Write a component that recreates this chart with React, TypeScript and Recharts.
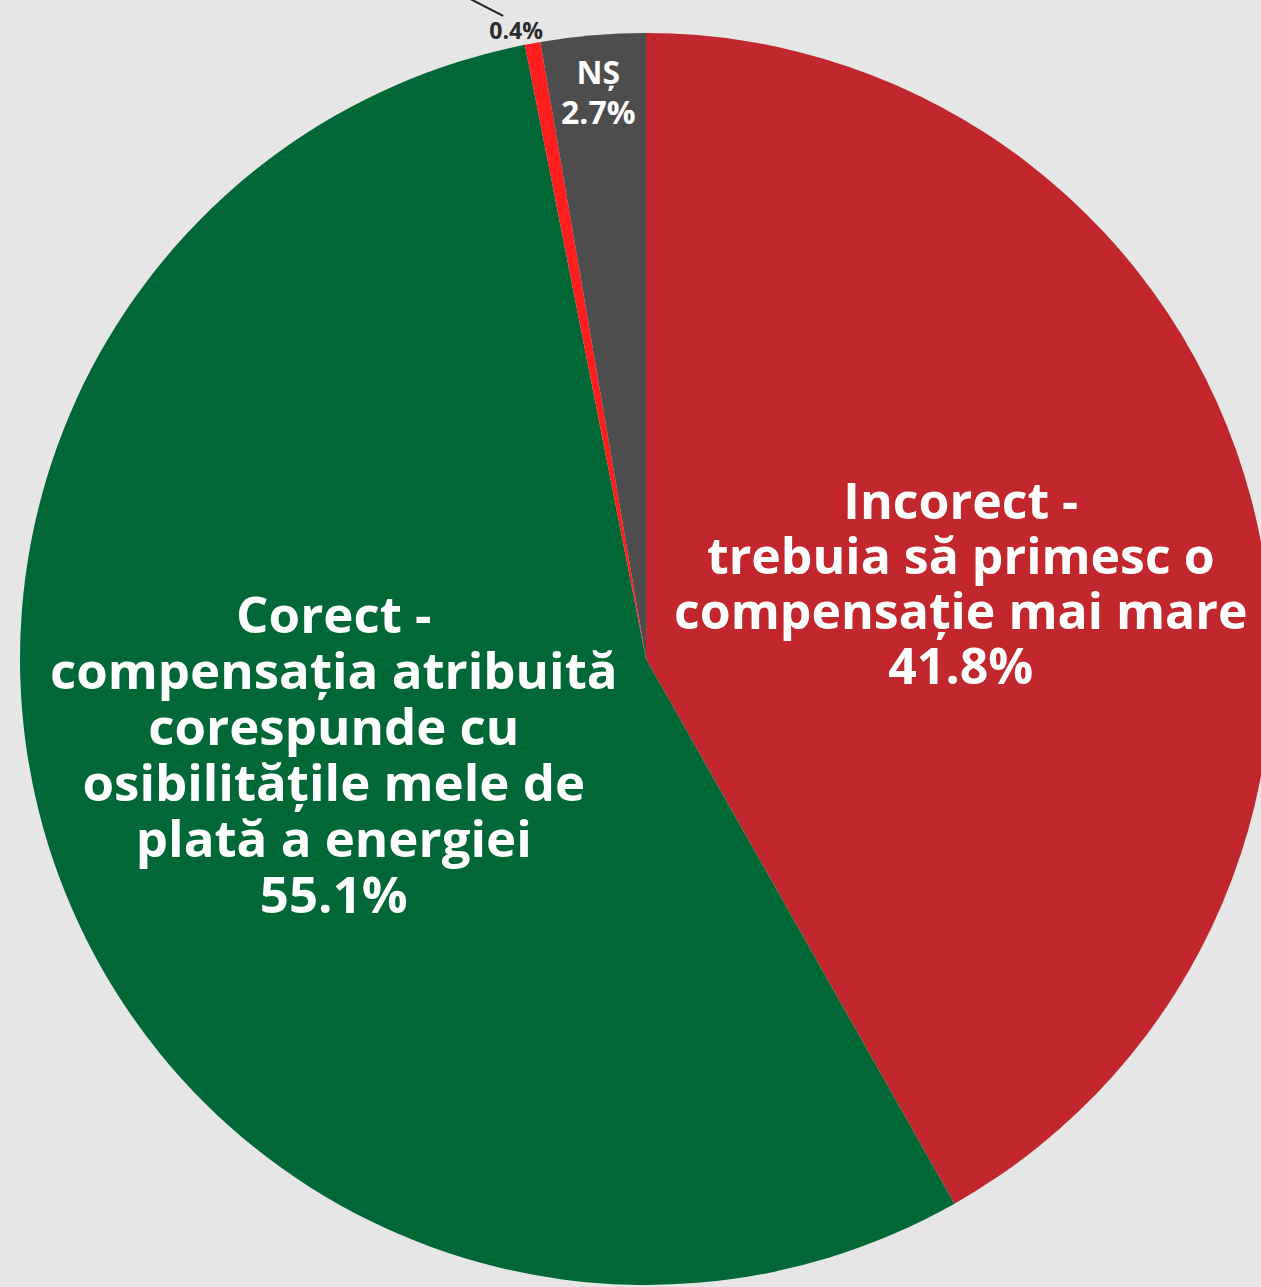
import { Pie, PieChart, Cell } from "recharts";

const categories = ["Incorect", "Corect", "Altceva", "NS"];
const shares = [41.8, 55.1, 0.4, 2.7];
const sliceColors = ["#c1272d", "#006837", "#ff1d1d", "#4d4d4d"];
const labelLines = [
  ["Incorect -", "trebuia să primesc o", "compensație mai mare", "41.8%"],
  ["Corect -", "compensația atribuită", "corespunde cu", "osibilitățile mele de", "plată a energiei", "55.1%"],
  ["0.4%"],
  ["NȘ", "2.7%"]
];

const data = categories.map((name, i) => ({ name, value: shares[i] }));

// label placement per slice: radius factor, nudge, font size, line height
const labelStyle = [
  { k: 0.52, dx: 0, dy: 6, size: 50, lh: 55 },
  { k: 0.52, dx: -7, dy: -19, size: 51, lh: 56 },
  { k: 1.03, dx: -13, dy: 5, size: 23, lh: 0 },
  { k: 0.9, dx: 0, dy: -6, size: 32, lh: 40 }
];

const RADIAN = Math.PI / 180;
const font = "'Open Sans', 'Noto Sans', sans-serif";

function renderLabel(props: any) {
  const { cx, cy, midAngle, outerRadius, index } = props;
  const lines = labelLines[index];
  const s = labelStyle[index];
  const x = cx + outerRadius * s.k * Math.cos(-midAngle * RADIAN) + s.dx;
  const y = cy + outerRadius * s.k * Math.sin(-midAngle * RADIAN) + s.dy;

  // tiny slice: dark label outside the pie with a short leader line
  if (index === 2) {
    return (
      <g>
        <line x1={x - 13} y1={y - 14} x2={x - 50} y2={y - 33} stroke="#222" strokeWidth={2} />
        <text x={x} y={y} textAnchor="middle" dominantBaseline="central"
          fill="#2b2b2b" fontSize={s.size} fontWeight={700} fontFamily={font}>
          {lines[0]}
        </text>
      </g>
    );
  }

  const top = y - ((lines.length - 1) * s.lh) / 2;
  return (
    <text textAnchor="middle" fill="#ffffff" fontSize={s.size} fontWeight={700} fontFamily={font}>
      {lines.map((t, i) => (
        <tspan key={i} x={x} y={top + i * s.lh} dominantBaseline="central">
          {t}
        </tspan>
      ))}
    </text>
  );
}

export default function App() {
  return (
    <div style={{ position: "absolute", left: 0, top: 0, width: 1261, height: 1287, background: "#e6e6e6" }}>
      <PieChart width={1261} height={1287} margin={{ top: 0, right: 0, bottom: 0, left: 0 }}>
        <Pie
          data={data}
          dataKey="value"
          nameKey="name"
          cx={646}
          cy={659}
          outerRadius={626}
          startAngle={90}
          endAngle={-270}
          stroke="none"
          label={renderLabel}
          labelLine={false}
          isAnimationActive={false}
        >
          {data.map((d, i) => (
            <Cell key={d.name} fill={sliceColors[i]} />
          ))}
        </Pie>
      </PieChart>
    </div>
  );
}
